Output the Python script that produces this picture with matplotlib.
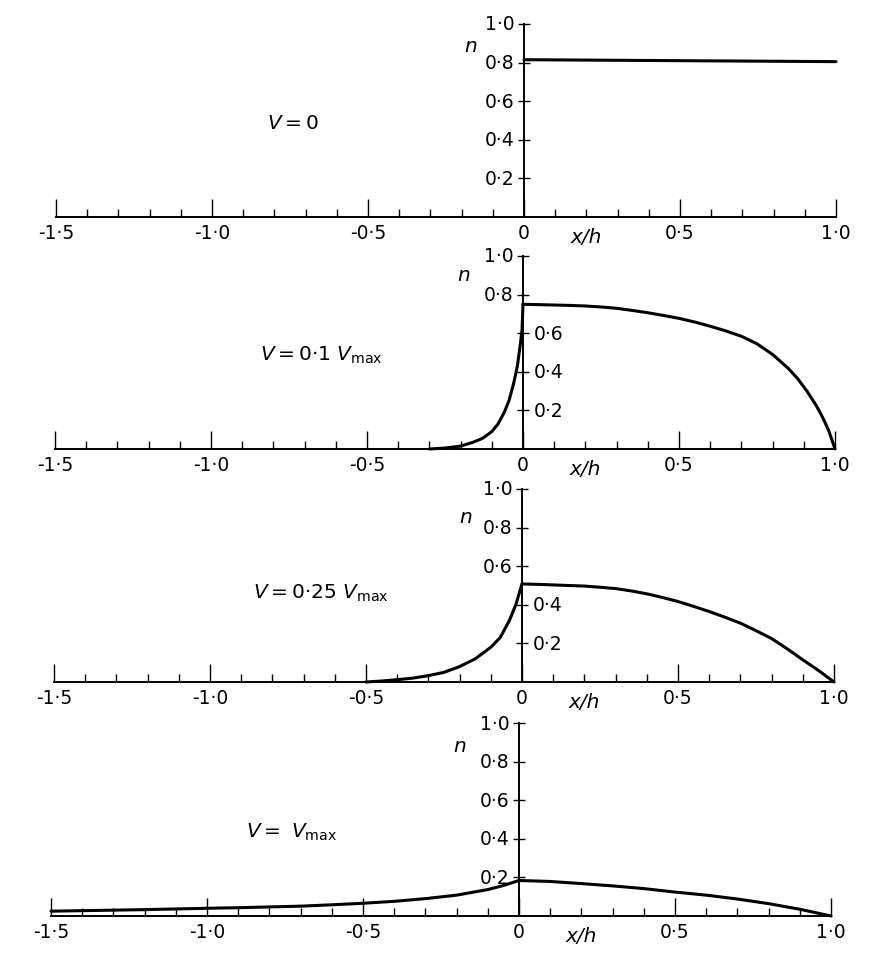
import matplotlib.pyplot as plt
import numpy as np

plt.rcParams['font.family'] = ['DejaVu Sans']
plt.rcParams['mathtext.fontset'] = 'dejavusans'

# x tick positions and labels (shared by the four panels)
x_major = [-1.5, -1.0, -0.5, 0.0, 0.5, 1.0]
x_major_labels = ['-1·5', '-1·0', '-0·5', '0', '0·5', '1·0']
x_minor = np.round(np.arange(-1.5, 1.01, 0.1), 2)
y_ticks = [0.2, 0.4, 0.6, 0.8, 1.0]
y_tick_labels = ['0·2', '0·4', '0·6', '0·8', '1·0']

# V = 0
p1_x = [0.0, 1.0]
p1_n = [0.815, 0.805]

# V = 0.1 Vmax
p2_left_x = [-0.3, -0.25, -0.2, -0.16, -0.13, -0.1, -0.08, -0.06, -0.045, -0.03, -0.018, -0.008, -0.003, 0.0]
p2_left_n = [0.0, 0.005, 0.015, 0.035, 0.055, 0.09, 0.13, 0.19, 0.25, 0.34, 0.43, 0.55, 0.62, 0.75]
p2_right_x = [0.0, 0.05, 0.1, 0.15, 0.2, 0.25, 0.3, 0.35, 0.4, 0.45, 0.5, 0.55, 0.6, 0.65, 0.7,
              0.75, 0.8, 0.85, 0.88, 0.91, 0.94, 0.96, 0.98, 1.0]
p2_right_n = [0.75, 0.748, 0.746, 0.744, 0.741, 0.736, 0.729, 0.718, 0.706, 0.692, 0.677, 0.658, 0.636, 0.612, 0.584,
              0.545, 0.49, 0.418, 0.365, 0.30, 0.225, 0.165, 0.095, 0.0]

# V = 0.25 Vmax
p3_left_x = [-0.5, -0.45, -0.4, -0.35, -0.3, -0.25, -0.2, -0.15, -0.1, -0.07, -0.04, -0.02, 0.0]
p3_left_n = [0.0, 0.005, 0.012, 0.02, 0.033, 0.05, 0.08, 0.12, 0.18, 0.23, 0.32, 0.40, 0.508]
p3_right_x = [0.0, 0.05, 0.1, 0.15, 0.2, 0.25, 0.3, 0.35, 0.4, 0.45, 0.5, 0.55, 0.6, 0.65, 0.7,
              0.75, 0.8, 0.85, 0.9, 0.95, 1.0]
p3_right_n = [0.508, 0.506, 0.503, 0.5, 0.497, 0.491, 0.484, 0.472, 0.457, 0.438, 0.417, 0.392, 0.365, 0.336, 0.305,
              0.266, 0.225, 0.172, 0.115, 0.06, 0.0]

# V = Vmax
p4_x = [-1.5, -1.2, -1.0, -0.9, -0.8, -0.7, -0.6, -0.5, -0.4, -0.3, -0.2, -0.1, -0.05, 0.0,
        0.1, 0.2, 0.3, 0.4, 0.5, 0.6, 0.7, 0.8, 0.9, 1.0]
p4_n = [0.025, 0.033, 0.04, 0.043, 0.047, 0.051, 0.058, 0.066, 0.076, 0.09, 0.108, 0.137, 0.158, 0.184,
        0.179, 0.168, 0.156, 0.142, 0.124, 0.108, 0.088, 0.064, 0.035, 0.0]

panels = [
    dict(x0=524, y0=218, curves=[(p1_x, p1_n)], label=r'$V = 0$', lab_xy=(-0.74, 0.49),
         right_labels=[], n_xy=(-0.17, 0.89)),
    dict(x0=523, y0=450, curves=[(p2_left_x, p2_left_n), (p2_right_x, p2_right_n)],
         label=r'$V = $0·1 $V_{\rm max}$', lab_xy=(-0.645, 0.49),
         right_labels=[0.2, 0.4, 0.6], n_xy=(-0.19, 0.905)),
    dict(x0=522, y0=683, curves=[(p3_left_x, p3_left_n), (p3_right_x, p3_right_n)],
         label=r'$V = $0·25 $V_{\rm max}$', lab_xy=(-0.645, 0.465),
         right_labels=[0.2, 0.4], n_xy=(-0.18, 0.86)),
    dict(x0=519, y0=917, curves=[(p4_x, p4_n)], label=r'$V = \ V_{\rm max}$', lab_xy=(-0.73, 0.44),
         right_labels=[], n_xy=(-0.19, 0.885)),
]

W, H = 884, 962
sx, sy = 312, 193
xlim = (-1.65, 1.15)
ylim = (-0.2, 1.1)

fig = plt.figure(figsize=(W / 100, H / 100), dpi=100)

for p in panels:
    left = p['x0'] + xlim[0] * sx
    right = p['x0'] + xlim[1] * sx
    top = p['y0'] - ylim[1] * sy
    bottom = p['y0'] - ylim[0] * sy
    ax = fig.add_axes([left / W, 1 - bottom / H, (right - left) / W, (bottom - top) / H])
    ax.patch.set_visible(False)
    ax.set_xlim(*xlim)
    ax.set_ylim(*ylim)

    for side in ['top', 'right']:
        ax.spines[side].set_visible(False)
    ax.spines['bottom'].set_position(('data', 0))
    ax.spines['bottom'].set_bounds(-1.5, 1.0)
    ax.spines['left'].set_position(('data', 0))
    ax.spines['left'].set_bounds(0, 1.0)
    for side in ['bottom', 'left']:
        ax.spines[side].set_linewidth(1.4)

    ax.set_xticks(x_major)
    ax.set_xticklabels(x_major_labels)
    ax.set_xticks(x_minor, minor=True)
    ax.tick_params(axis='x', which='major', direction='in', length=13, width=1.0,
                   labelsize=13.5, pad=4)
    ax.tick_params(axis='x', which='minor', direction='in', length=6, width=1.0)
    ax.set_yticks(y_ticks)
    ax.set_yticklabels([])
    ax.tick_params(axis='y', direction='inout', length=8, width=1.0)

    for yv, lab in zip(y_ticks, y_tick_labels):
        if yv in p['right_labels']:
            ax.text(0.035, yv, lab, ha='left', va='center', fontsize=13.5)
        else:
            ax.text(-0.03, yv, lab, ha='right', va='center', fontsize=13.5)

    for cx, cn in p['curves']:
        ax.plot(cx, cn, color='black', lw=2.2, solid_capstyle='round', solid_joinstyle='round')

    ax.text(p['n_xy'][0], p['n_xy'][1], 'n', fontstyle='italic', fontsize=14.5,
            ha='center', va='center')
    ax.text(0.2, -0.1, 'x/h', fontstyle='italic', fontsize=14.5, ha='center', va='center')
    ax.text(p['lab_xy'][0], p['lab_xy'][1], p['label'], fontsize=14.5, ha='center', va='center')

plt.savefig('out.png', dpi=100)
